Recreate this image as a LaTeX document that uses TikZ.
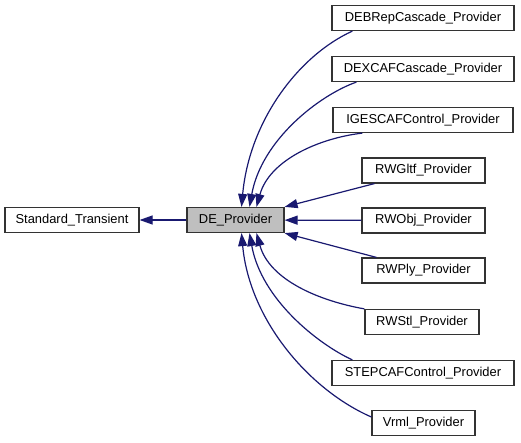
\documentclass[tikz,border=0pt]{standalone}
\usepackage{fontspec}
\setmainfont{Liberation Sans}
\usetikzlibrary{arrows.meta}
\definecolor{edgeblue}{HTML}{191970}
\definecolor{boxgray}{HTML}{BFBFBF}
\begin{document}
\begin{tikzpicture}
    [
    x=1pt,y=-1pt,
    every node/.style={font=\fontsize{12.9}{15}\selectfont},
    class/.style={rectangle,draw=black!80,line width=1.2pt,fill=white,inner sep=0pt,minimum height=25pt},
    current/.style={fill=boxgray},
    link/.style={draw=edgeblue,line width=1.2pt,-{Triangle[length=13pt,width=9pt]}}
    ]
    \useasboundingbox (0,0) rectangle (521,443);
    \node (st) at (72,220) [class,minimum width=134pt] {Standard\_Transient};
    \node (de) at (235.5,220) [class,current,minimum width=97pt] {DE\_Provider};
    \node (debrep) at (423,18) [class,minimum width=182pt] {DEBRepCascade\_Provider};
    \node (dexcaf) at (423,69) [class,minimum width=182pt] {DEXCAFCascade\_Provider};
    \node (iges) at (423,120) [class,minimum width=180pt] {IGESCAFControl\_Provider};
    \node (gltf) at (423.5,170.5) [class,minimum width=123pt] {RWGltf\_Provider};
    \node (obj) at (423.5,220.5) [class,minimum width=123pt] {RWObj\_Provider};
    \node (ply) at (423.5,270.5) [class,minimum width=123pt] {RWPly\_Provider};
    \node (stl) at (422,322) [class,minimum width=114pt] {RWStl\_Provider};
    \node (step) at (423,373) [class,minimum width=182pt] {STEPCAFControl\_Provider};
    \node (vrml) at (423.5,423) [class,minimum width=103pt] {Vrml\_Provider};
    \draw [link] (de) -- (st);
    \draw [link] ([xshift=21]debrep.south west) .. controls +(-53,24) and +(8,-87) .. ([xshift=6]de.north);
    \draw [link] ([xshift=25]dexcaf.south west) .. controls +(-37,13) and +(12,-67) .. ([xshift=14]de.north);
    \draw [link] ([xshift=30]iges.south west) .. controls +(-43,5) and +(13,-47) .. ([xshift=21]de.north);
    \draw [link] ([xshift=13]gltf.south west) -- (de.north east);
    \draw [link] (obj) -- (de);
    \draw [link] ([xshift=15]ply.north west) -- (de.south east);
    \draw [link] (stl.north west) .. controls +(-45,-8) and +(13,47) .. ([xshift=21]de.south);
    \draw [link] ([xshift=21]step.north west) .. controls +(-33,-15) and +(12,67) .. ([xshift=14]de.south);
    \draw [link] ([yshift=6]vrml.west) .. controls +(-62,-27) and +(8,87) .. ([xshift=6]de.south);
  \end{tikzpicture}
\end{document}
